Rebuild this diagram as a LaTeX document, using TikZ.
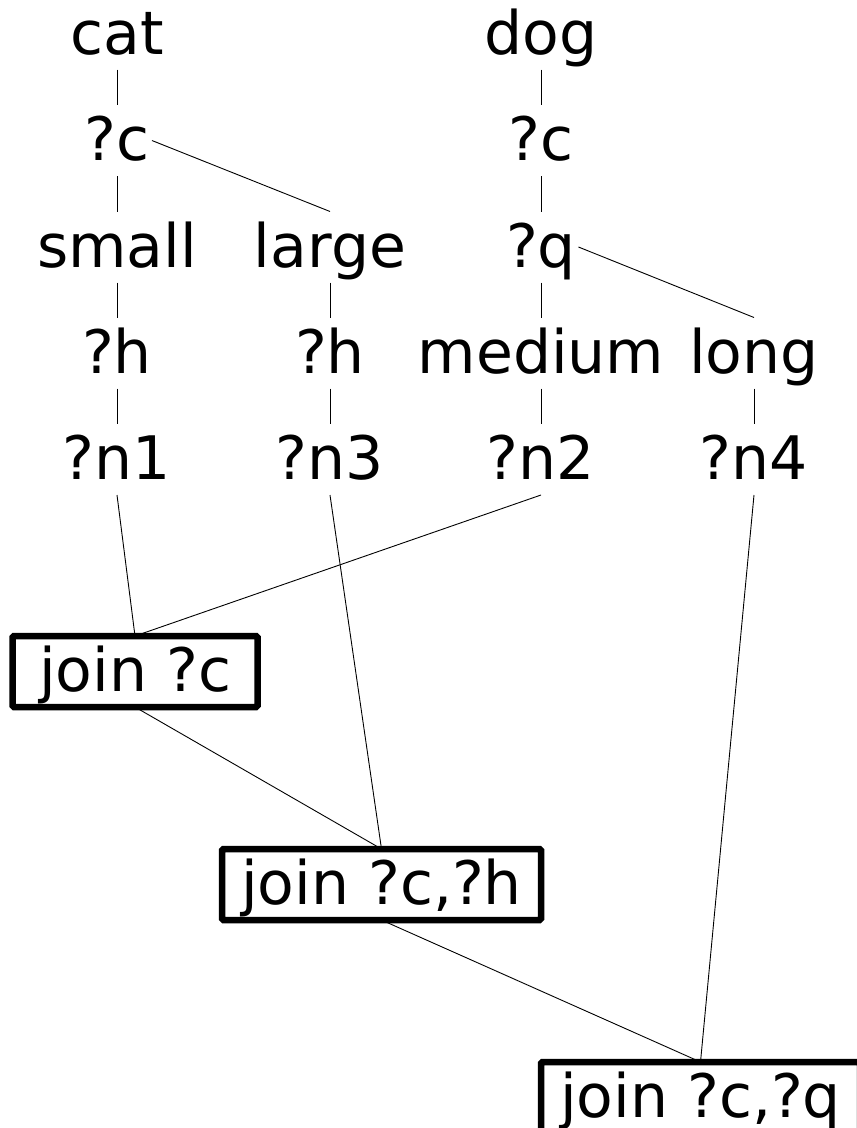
\documentclass[tikz,border=0pt]{standalone}
\usepackage{fontspec}
\setmainfont{DejaVu Sans}
\begin{document}
\begin{tikzpicture}[x=1pt,y=-1pt,
  every node/.style={outer sep=0pt},
  lbl/.style={inner xsep=2.5pt, inner ysep=0pt, text height=47pt, text depth=7pt,
    minimum height=71pt, font=\fontsize{60}{72}\selectfont},
  joinbox/.style={lbl, draw, line width=6.5pt, rounded corners=1.5pt, minimum height=71pt},
  conn/.style={line width=0.9pt}]
\clip (0,0) rectangle (857,1128);
% row 0
\node[lbl] (cat) at (117,34) {cat};
\node[lbl] (dog) at (541,34) {dog};
% row 1
\node[lbl] (c1) at (117,140.5) {?c};
\node[lbl] (c2) at (541,140.5) {?c};
% row 2
\node[lbl] (small) at (117,247) {small};
\node[lbl] (large) at (330,247) {large};
\node[lbl] (q) at (541,247) {?q};
% row 3
\node[lbl] (h1) at (117,353) {?h};
\node[lbl] (h3) at (330,353) {?h};
\node[lbl] (medium) at (541,353) {medium};
\node[lbl] (long) at (754,353) {long};
% row 4
\node[lbl] (n1) at (117,459.5) {?n1};
\node[lbl] (n3) at (330,459.5) {?n3};
\node[lbl] (n2) at (541,459.5) {?n2};
\node[lbl] (n4) at (754,459.5) {?n4};
% joins
\node[joinbox, minimum width=245pt] (j1) at (135,671.5) {join ?c};
\node[joinbox, minimum width=319pt] (j2) at (381.5,884.5) {join ?c,?h};
\node[joinbox, minimum width=319pt] (j3) at (700.5,1097.5) {join ?c,?q};
% connectors
\draw[conn] (cat.south) -- (c1.north);
\draw[conn] (c1.south) -- (small.north);
\draw[conn] (c1.east) -- (large.north);
\draw[conn] (small.south) -- (h1.north);
\draw[conn] (large.south) -- (h3.north);
\draw[conn] (h1.south) -- (n1.north);
\draw[conn] (h3.south) -- (n3.north);
\draw[conn] (dog.south) -- (c2.north);
\draw[conn] (c2.south) -- (q.north);
\draw[conn] (q.east) -- (long.north);
\draw[conn] (q.south) -- (medium.north);
\draw[conn] (medium.south) -- (n2.north);
\draw[conn] (long.south) -- (n4.north);
\draw[conn] (n1.south) -- (j1.north);
\draw[conn] (n2.south) -- (j1.north);
\draw[conn] (j1.south) -- (j2.north);
\draw[conn] (n3.south) -- (j2.north);
\draw[conn] (j2.south) -- (j3.north);
\draw[conn] (n4.south) -- (j3.north);
\end{tikzpicture}
\end{document}
